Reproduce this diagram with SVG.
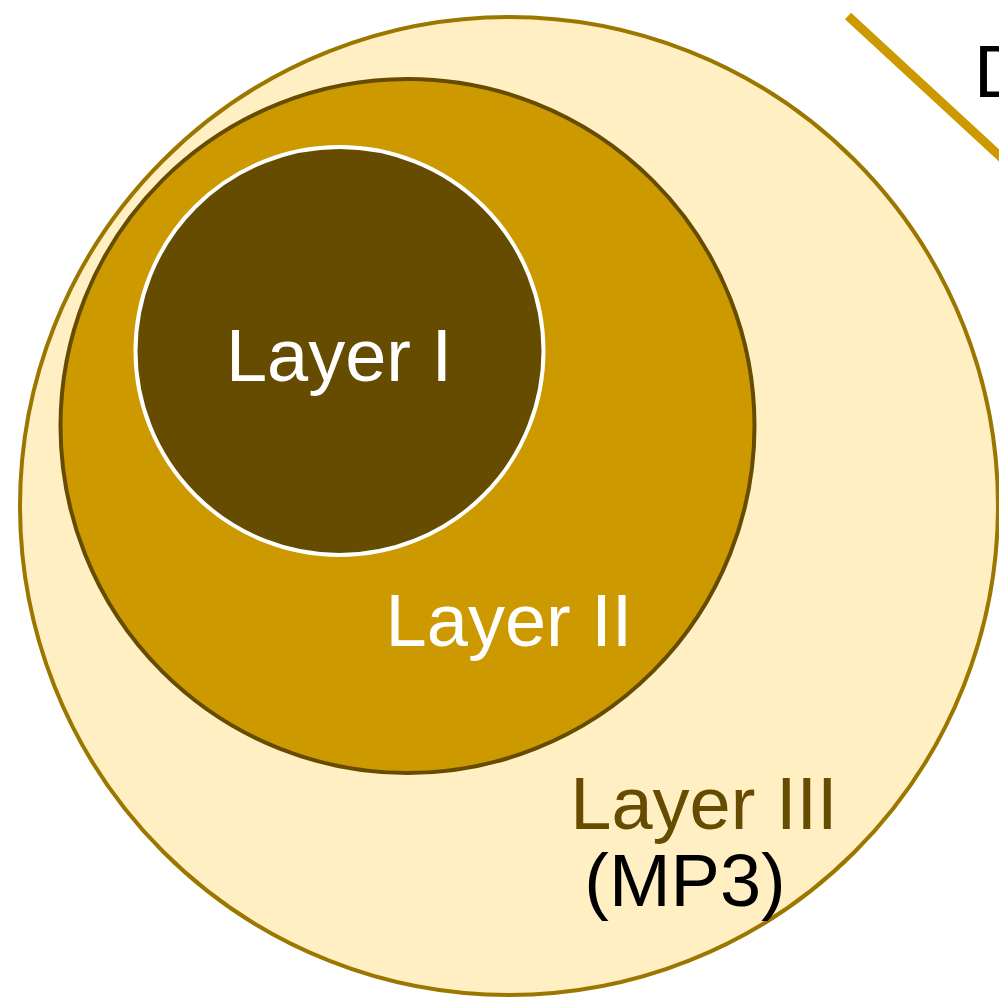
<svg xmlns="http://www.w3.org/2000/svg" width="999" height="999" viewBox="0 0 999 999">
<style>
text{font-family:"Liberation Sans",Arial,sans-serif;font-size:74px;text-anchor:middle}
</style>
<rect width="999" height="999" fill="#ffffff"/>
<g id="connectors">
<line x1="848" y1="16" x2="1004" y2="160" stroke="#CC9900" stroke-width="9"/>
</g>
<g id="label-d"><text x="974" y="97" style="text-anchor:start" fill="#000">D</text></g>
<g id="layer3">
<circle cx="509" cy="506" r="489" fill="#FFEFC2" stroke="#9C7700" stroke-width="4"/>
<text x="704" y="829" fill="#664C00">Layer III</text>
<text x="685" y="906" fill="#000">(MP3)</text>
</g>
<g id="layer2">
<circle cx="407.5" cy="426" r="347" fill="#CC9900" stroke="#664C00" stroke-width="4"/>
<text x="509" y="646" fill="#fff">Layer II</text>
</g>
<g id="layer1">
<circle cx="339.5" cy="351" r="204" fill="#664C00" stroke="#fff" stroke-width="4"/>
<text x="339" y="381" fill="#fff">Layer I</text>
</g>
</svg>
